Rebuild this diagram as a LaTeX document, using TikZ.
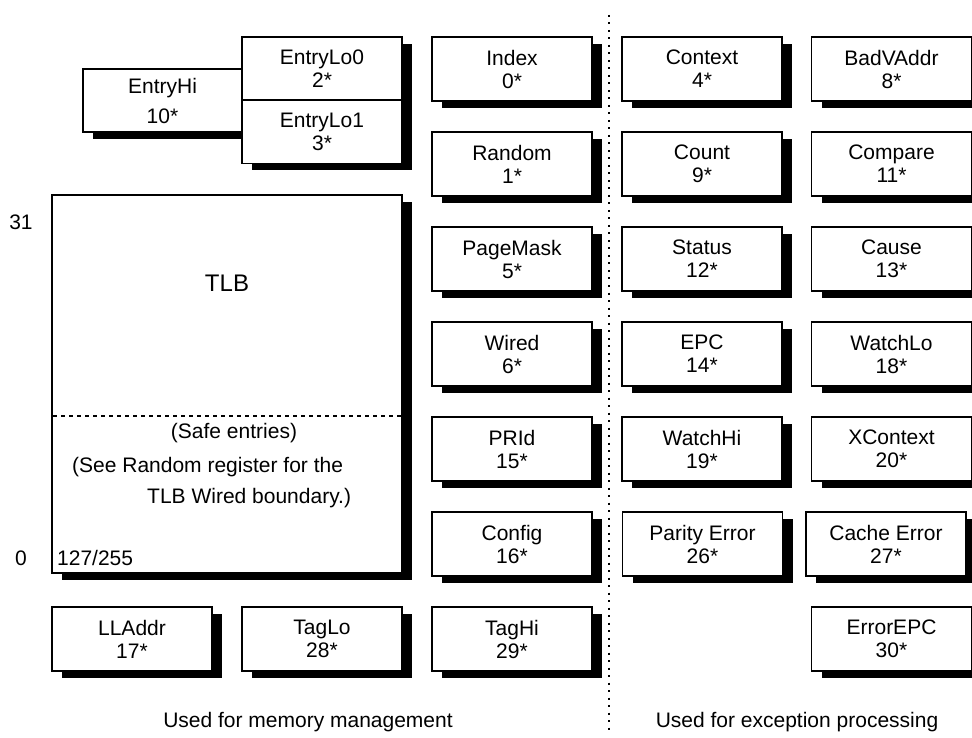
\documentclass[tikz,border=0pt]{standalone}
\usepackage{fontspec}
\setmainfont{Liberation Sans}
\usetikzlibrary{shadows}
\begin{document}
\begin{tikzpicture}[x=1pt,y=-1pt,
  reg/.style={draw=black, line width=1.4pt, fill=white, minimum width=160pt, minimum height=64pt,
    inner sep=0pt, align=center, font=\fontsize{21}{23}\selectfont,
    drop shadow={shadow xshift=10pt, shadow yshift=-7pt, fill=black, opacity=1}},
  lbl/.style={font=\fontsize{21}{23}\selectfont, inner sep=0pt}]
\useasboundingbox (0,0) rectangle (972,738);
% TLB
\node[reg, minimum width=350pt, minimum height=378pt] (tlb) at (227,384) {};
\node[lbl, font=\fontsize{24}{26}\selectfont] (tlbname) at (227,283) {TLB};
\coordinate (dl) at (53,416);
\coordinate (dr) at (401,416);
\draw[line width=1.4pt, dash pattern=on 4pt off 4pt] (dl) -- (dr);
\node[lbl] (safe) at (234,433) {(Safe entries)};
\node[lbl, anchor=west] (see1) at (72,467) {(See Random register for the};
\node[lbl, anchor=west] (see2) at (147,498) {TLB Wired boundary.)};
\node[lbl, anchor=west] (lowidx) at (57,558) {127/255};
\node[lbl] (t31) at (21,222) {31};
\node[lbl] (t0) at (21,558) {0};
% Entry registers
\node[reg, minimum width=159pt, minimum height=63pt] (entryhi) at (162.5,100.5) {EntryHi\\[7pt]10*};
\node[reg, minimum height=63pt] (entrylo0) at (322,68.5) {EntryLo0\\2*};
\node[reg, minimum height=63pt] (entrylo1) at (322,132) {EntryLo1\\3*};
% bottom-left
\node[reg] (lladdr) at (132,639) {LLAddr\\17*};
\node[reg] (taglo) at (322,639) {TagLo\\28*};
% column B
\node[reg] (index) at (512,69) {Index\\0*};
\node[reg] (random) at (512,164) {Random\\1*};
\node[reg] (pagemask) at (512,259) {PageMask\\5*};
\node[reg] (wired) at (512,354) {Wired\\6*};
\node[reg] (prid) at (512,449) {PRId\\15*};
\node[reg] (config) at (512,544) {Config\\16*};
\node[reg] (taghi) at (512,639) {TagHi\\29*};
% column C
\node[reg] (context) at (702,69) {Context\\4*};
\node[reg] (count) at (702,164) {Count\\9*};
\node[reg] (status) at (702,259) {Status\\12*};
\node[reg] (epc) at (702,354) {EPC\\14*};
\node[reg] (watchhi) at (702,449) {WatchHi\\19*};
\node[reg] (parity) at (702.5,544) {Parity Error\\26*};
% column D
\node[reg] (badvaddr) at (891.5,69) {BadVAddr\\8*};
\node[reg] (compare) at (891.5,164) {Compare\\11*};
\node[reg] (cause) at (891.5,259) {Cause\\13*};
\node[reg] (watchlo) at (891.5,354) {WatchLo\\18*};
\node[reg] (xcontext) at (891.5,449) {XContext\\20*};
\node[reg] (cacheerr) at (886,544) {Cache Error\\27*};
\node[reg] (errorepc) at (891.5,639) {ErrorEPC\\30*};
% separator
\coordinate (septop) at (609,15);
\coordinate (sepbot) at (609,733);
\draw[line width=2pt, dash pattern=on 2pt off 5.5pt] (septop) -- (sepbot);
% captions
\node[lbl] (capmem) at (308,722) {Used for memory management};
\node[lbl] (capexc) at (797,722) {Used for exception processing};
\end{tikzpicture}
\end{document}
